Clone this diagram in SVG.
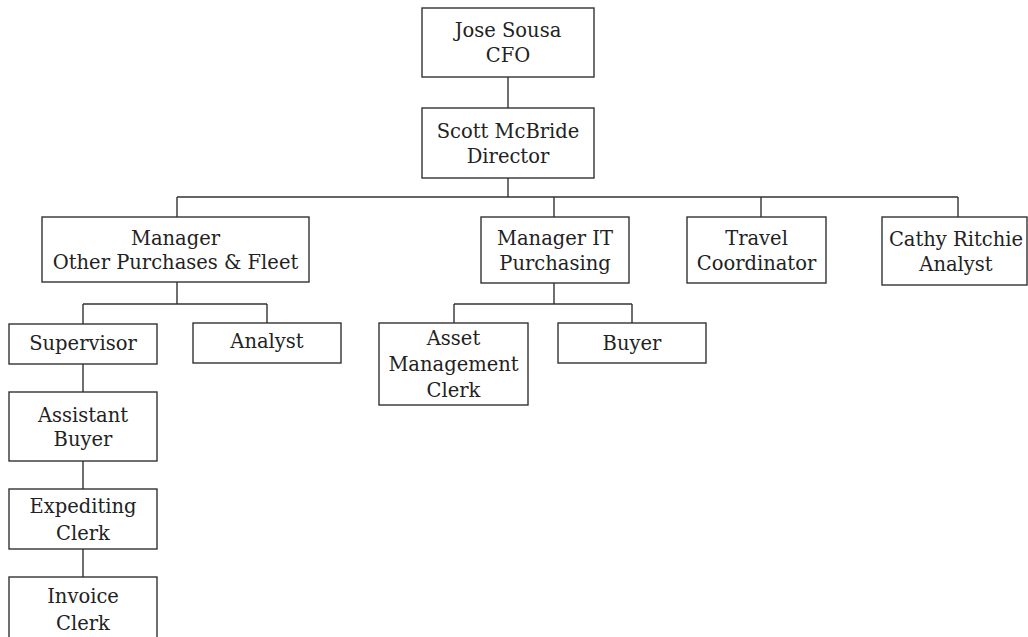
<svg xmlns="http://www.w3.org/2000/svg" width="1028" height="637" viewBox="0 0 1028 637">
<style>
.box{fill:#fff;stroke:#333;stroke-width:1.4}
.ln{fill:none;stroke:#333;stroke-width:1.4}
text{font-family:"DejaVu Serif","Liberation Serif",serif;font-size:19.5px;fill:#222;text-anchor:middle}
</style>
<rect width="1028" height="637" fill="#fff"/>
<g id="connectors">
<path class="ln" d="M508 77V108M508 178V197M177 197H958M177 197V217M554 197V217M761 197V217M958 197V217"/>
<path class="ln" d="M177 282V304M83 304H267M83 304V324M267 304V323"/>
<path class="ln" d="M554 283V304M454 304H632M454 304V323M632 304V323"/>
<path class="ln" d="M83 364V392M83 461V489M83 549V577"/>
</g>
<g id="jose"><rect class="box" x="422" y="8" width="172" height="69"/><text x="508" y="37">Jose Sousa</text><text x="508" y="62">CFO</text></g>
<g id="scott"><rect class="box" x="422" y="108" width="172" height="70"/><text x="508" y="138">Scott McBride</text><text x="508" y="163">Director</text></g>
<g id="mgr-other"><rect class="box" x="42" y="217" width="267" height="65"/><text x="175.5" y="245">Manager</text><text x="175.5" y="269">Other Purchases &amp; Fleet</text></g>
<g id="mgr-it"><rect class="box" x="481" y="217" width="148" height="66"/><text x="555" y="245">Manager IT</text><text x="555" y="270">Purchasing</text></g>
<g id="travel"><rect class="box" x="687" y="217" width="139" height="66"/><text x="756.5" y="245">Travel</text><text x="756.5" y="270">Coordinator</text></g>
<g id="cathy"><rect class="box" x="882" y="217" width="145" height="68"/><text x="956" y="246">Cathy Ritchie</text><text x="956" y="271">Analyst</text></g>
<g id="supervisor"><rect class="box" x="9" y="324" width="148" height="40"/><text x="83" y="350">Supervisor</text></g>
<g id="analyst"><rect class="box" x="193" y="323" width="148" height="40"/><text x="267" y="348">Analyst</text></g>
<g id="asset"><rect class="box" x="379" y="323" width="149" height="82"/><text x="453.5" y="345">Asset</text><text x="453.5" y="371">Management</text><text x="453.5" y="397">Clerk</text></g>
<g id="buyer"><rect class="box" x="558" y="323" width="148" height="40"/><text x="632" y="350">Buyer</text></g>
<g id="assistant"><rect class="box" x="9" y="392" width="148" height="69"/><text x="83" y="422">Assistant</text><text x="83" y="446">Buyer</text></g>
<g id="expediting"><rect class="box" x="9" y="489" width="148" height="60"/><text x="83" y="513">Expediting</text><text x="83" y="540">Clerk</text></g>
<g id="invoice"><rect class="box" x="9" y="577" width="148" height="70"/><text x="83" y="603">Invoice</text><text x="83" y="630">Clerk</text></g>
</svg>
